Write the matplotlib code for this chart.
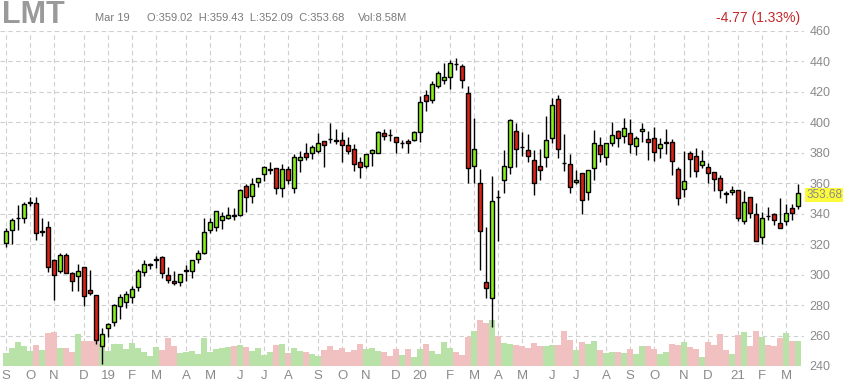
import numpy as np
import matplotlib.pyplot as plt

# weekly LMT candles, Sep 2018 .. Mar 2021
opens = [320.9, 329.5, 337.0, 337.5, 347.2, 346.8, 328.0, 331.5, 309.7, 302.4,
         313.0, 301.1, 299.3, 305.0, 290.0, 286.5, 253.4, 264.9, 268.8, 279.4,
         281.9, 285.2, 291.6, 301.8, 306.6, 309.8, 311.7, 299.8, 295.8, 295.1,
         302.4, 302.4, 310.2, 314.4, 329.0, 331.0, 335.6, 337.4, 339.2, 339.0,
         358.2, 351.5, 361.1, 366.2, 368.8, 369.8, 357.2, 369.1, 357.2, 375.1,
         379.7, 379.7, 381.0, 387.9, 389.2, 388.1, 388.3, 385.0, 382.4, 373.8,
         371.6, 380.2, 379.7, 393.0, 391.9, 390.6, 386.2, 387.5, 388.1, 393.4,
         418.1, 414.6, 423.9, 427.7, 429.8, 438.4, 436.7, 419.5, 371.6, 359.9,
         295.2, 284.8, 351.2, 362.3, 370.9, 394.5, 383.9, 381.7, 375.1, 371.1,
         377.2, 389.8, 415.3, 373.4, 372.8, 360.6, 367.0, 354.2, 369.9, 385.0,
         377.2, 386.7, 394.2, 391.2, 392.7, 384.5, 394.0, 388.9, 390.0, 383.4,
         386.5, 387.4, 369.7, 356.5, 380.0, 378.2, 371.8, 370.7, 367.4, 363.4,
         353.4, 354.1, 355.4, 335.3, 350.8, 339.5, 324.9, 338.6, 339.5, 334.2,
         334.9, 343.5, 344.8]
highs = [330.9, 337.0, 345.6, 347.9, 351.2, 350.7, 337.3, 335.0, 310.0, 314.5,
         314.5, 301.5, 307.2, 305.2, 303.1, 286.7, 265.1, 268.0, 280.5, 287.2,
         289.4, 292.7, 303.5, 309.3, 307.5, 312.1, 312.0, 305.3, 302.2, 300.4,
         306.6, 309.7, 316.0, 337.5, 337.2, 341.6, 340.9, 344.7, 343.6, 356.2,
         359.6, 363.5, 363.6, 371.2, 373.7, 370.0, 372.5, 371.3, 379.1, 381.3,
         386.4, 385.3, 393.0, 388.0, 399.6, 395.6, 393.6, 390.3, 385.5, 377.1,
         379.2, 382.8, 394.5, 395.6, 395.8, 390.7, 388.1, 389.0, 394.5, 417.3,
         421.0, 427.4, 433.6, 438.9, 440.9, 442.2, 438.2, 424.0, 402.9, 369.1,
         331.5, 365.0, 355.9, 381.9, 402.2, 399.6, 393.4, 392.3, 381.9, 382.4,
         404.4, 415.9, 417.7, 392.3, 379.0, 368.6, 367.0, 369.0, 394.9, 390.7,
         386.3, 400.0, 395.1, 402.7, 402.2, 391.2, 399.8, 394.5, 396.7, 390.0,
         395.6, 389.4, 370.6, 381.5, 381.5, 383.3, 382.0, 373.4, 367.4, 365.6,
         355.2, 357.9, 355.4, 355.0, 350.8, 346.8, 341.3, 344.6, 340.6, 350.1,
         346.2, 346.2, 359.43]
lows = [318.1, 320.3, 329.0, 334.0, 345.0, 322.9, 325.1, 301.9, 283.4, 301.3,
        300.8, 289.1, 289.4, 279.4, 286.7, 254.7, 241.4, 258.9, 266.2, 271.0,
        278.3, 281.2, 289.4, 298.9, 303.8, 304.2, 297.6, 294.2, 293.4, 292.7,
        296.0, 297.6, 307.5, 313.3, 327.4, 328.8, 330.1, 336.3, 335.8, 338.5,
        341.4, 346.9, 357.5, 361.3, 366.4, 352.8, 351.0, 359.4, 353.9, 367.2,
        375.3, 375.8, 379.7, 370.5, 386.4, 385.9, 374.2, 379.3, 368.0, 363.2,
        369.8, 371.6, 379.6, 388.1, 387.5, 380.2, 383.0, 379.7, 387.5, 387.2,
        407.3, 412.4, 422.6, 425.2, 422.1, 434.5, 422.8, 360.3, 360.5, 303.0,
        284.8, 265.4, 322.0, 353.9, 365.9, 370.9, 378.0, 374.2, 352.6, 362.1,
        370.8, 386.7, 376.8, 367.9, 353.5, 359.7, 339.6, 348.7, 362.4, 373.9,
        371.7, 384.5, 383.8, 386.7, 380.1, 378.5, 387.4, 375.2, 374.6, 376.3,
        379.0, 365.3, 345.8, 350.8, 363.8, 363.8, 370.0, 360.1, 354.6, 350.1,
        346.8, 352.3, 335.3, 333.5, 337.3, 321.9, 320.0, 335.8, 332.9, 330.5,
        332.9, 335.8, 343.1]
closes = [328.7, 336.2, 337.5, 346.3, 347.6, 327.5, 328.4, 305.0, 299.7, 313.0,
          301.1, 296.0, 302.6, 285.8, 287.8, 257.4, 261.3, 267.7, 280.1, 285.6,
          287.4, 290.5, 302.2, 307.1, 307.2, 310.2, 301.1, 296.2, 294.2, 300.4,
          302.8, 309.7, 314.4, 328.3, 334.3, 341.6, 338.5, 339.2, 338.8, 355.5,
          350.9, 359.5, 363.5, 370.4, 369.2, 357.2, 369.1, 362.1, 377.1, 377.1,
          377.1, 383.7, 386.4, 385.0, 388.8, 387.7, 385.0, 381.5, 372.5, 370.9,
          379.1, 381.8, 393.6, 391.2, 391.5, 387.0, 386.6, 386.4, 393.9, 413.5,
          414.0, 425.4, 432.1, 429.9, 439.3, 438.0, 427.9, 369.8, 382.4, 328.5,
          291.4, 348.6, 350.8, 371.1, 401.6, 382.4, 383.5, 378.2, 360.5, 368.9,
          388.7, 411.5, 382.5, 373.0, 357.3, 362.4, 349.3, 369.0, 386.7, 379.4,
          386.3, 392.0, 390.0, 396.0, 386.1, 390.0, 395.4, 387.4, 380.8, 386.1,
          386.9, 374.8, 350.2, 361.4, 376.0, 367.8, 374.7, 366.5, 362.7, 355.9,
          353.0, 355.4, 336.9, 347.5, 340.2, 322.3, 336.9, 338.2, 336.2, 330.7,
          340.8, 340.8, 353.68]
# weekly volume, millions
volume = [5.2, 7.2, 9.6, 8.0, 6.0, 8.4, 6.4, 13.2, 13.6, 7.2,
          7.2, 5.6, 12.8, 10.0, 10.0, 10.0, 8.8, 6.0, 8.8, 8.8,
          6.8, 9.2, 7.2, 5.6, 4.0, 7.6, 6.4, 11.2, 8.0, 5.2,
          5.6, 6.0, 4.8, 11.2, 5.6, 6.8, 7.2, 7.6, 8.0, 8.4,
          7.6, 6.0, 7.2, 4.4, 5.6, 8.4, 8.8, 5.2, 7.2, 6.0,
          5.6, 4.8, 4.0, 6.4, 8.0, 6.4, 7.2, 5.6, 6.4, 8.8,
          6.8, 7.2, 6.0, 5.6, 4.0, 6.8, 4.4, 6.8, 3.6, 6.8,
          8.8, 6.0, 4.8, 9.6, 7.2, 5.6, 4.4, 11.6, 14.0, 18.4,
          17.2, 18.4, 12.0, 9.2, 8.8, 8.4, 8.0, 7.2, 9.2, 8.0,
          8.0, 8.4, 8.4, 14.0, 10.4, 6.4, 9.6, 8.8, 10.0, 6.4,
          5.2, 5.6, 5.6, 5.2, 6.8, 4.8, 8.0, 8.0, 6.8, 4.8,
          5.6, 8.8, 8.4, 9.6, 7.6, 6.8, 3.6, 9.6, 8.4, 12.8,
          6.4, 4.8, 12.4, 13.6, 8.0, 14.0, 11.6, 8.4, 8.0, 11.2,
          13.2, 10.0, 10.0]

# first weekly candle of each month
tick_idx = [0, 4, 8, 13, 17, 21, 25, 30, 34, 39, 43, 47, 52, 56, 60, 65,
            69, 74, 78, 82, 86, 91, 95, 100, 104, 108, 113, 117, 122, 126, 130]
tick_labels = ['S', 'O', 'N', 'D', '19', 'F', 'M', 'A', 'M', 'J', 'J', 'A',
               'S', 'O', 'N', 'D', '20', 'F', 'M', 'A', 'M', 'J', 'J', 'A',
               'S', 'O', 'N', 'D', '21', 'F', 'M']

plt.rcParams['font.family'] = ['Liberation Sans Narrow', 'Liberation Sans', 'DejaVu Sans']

o = np.array(opens)
h = np.array(highs)
l = np.array(lows)
c = np.array(closes)
v = np.array(volume)
x = np.arange(len(c))
up = c >= o

fig = plt.figure(figsize=(8.44, 3.84), dpi=100)
ax = fig.add_axes([0, 18 / 384, 804 / 844, 335 / 384])

#volume bars sit at the bottom of the price axis
vol_h = v / v.max() * 30.3
ax.bar(x, vol_h, bottom=240, width=0.84,
       color=np.where(up, '#b9e2a8', '#f1c1c1'), zorder=1)

#candles
ax.vlines(x, l, h, color='black', lw=1.0, zorder=2)
body = np.maximum(np.abs(c - o), 0.5)
ax.bar(x, body, bottom=np.minimum(o, c), width=0.7,
       color=np.where(up, '#88f01a', '#dc2216'), edgecolor='black',
       linewidth=1.0, zorder=3)

ax.set_xlim(-1, 133)
ax.set_ylim(240, 460)
ax.set_yticks(np.arange(240, 461, 20))
ax.set_xticks(tick_idx)
ax.set_xticklabels(tick_labels)
ax.yaxis.tick_right()
ax.tick_params(axis='y', length=0, pad=4, labelcolor='#8a8a8a', labelsize=9)
ax.tick_params(axis='x', length=0, pad=3, labelcolor='#8a8a8a', labelsize=9.5)
ax.grid(True, color='#cfcfcf', linestyle=(0, (4, 3)), linewidth=0.8)
ax.set_axisbelow(True)
for s in ax.spines.values():
    s.set_visible(False)

#last price tag
ax.text(1.003, c[-1] - 1.5, '%.2f' % c[-1], transform=ax.get_yaxis_transform(),
        va='center', ha='left', fontsize=8.5, color='#8a8a8a', clip_on=False,
        bbox=dict(facecolor='#fbfb3c', edgecolor='none', pad=0.8))

#header
fig.text(2 / 844, 1 - 15 / 384, 'LMT', fontsize=22, fontweight='bold',
         color='#9a9a9a', va='center', ha='left')
fig.text(95 / 844, 1 - 18 / 384, 'Mar 19', fontsize=8, color='#7a7a7a', va='center')
fig.text(147 / 844, 1 - 18 / 384, 'O:359.02  H:359.43  L:352.09  C:353.68',
         fontsize=8, color='#7a7a7a', va='center')
fig.text(358 / 844, 1 - 18 / 384, 'Vol:8.58M', fontsize=8, color='#7a7a7a', va='center')
fig.text(800 / 844, 1 - 18 / 384, '-4.77 (1.33%)', fontsize=10, color='#c0282a',
         va='center', ha='right')

plt.savefig('out.png', dpi=100)
